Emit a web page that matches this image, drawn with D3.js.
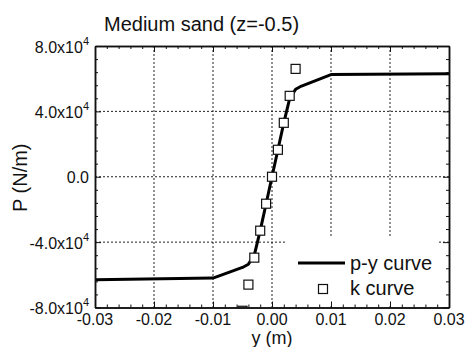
<!DOCTYPE html>
<html>
<head>
<meta charset="utf-8">
<script src="https://cdn.jsdelivr.net/npm/d3@7"></script>
<style>
  body { margin: 0; background: #fff; }
  svg text { font-family: "Liberation Sans", Arial, sans-serif; fill: #111; }
</style>
</head>
<body>
<div id="chart"></div>
<script>
// p-y curve points (y in m, P in N/m)
const pyY = [-0.03, -0.01, -0.005, -0.004, -0.003, -0.002, -0.001, 0, 0.001, 0.002, 0.003, 0.004, 0.005, 0.01, 0.03];
const pyP = [-63000, -62000, -55500, -53500, -48000, -33000, -16500, 0, 16500, 33000, 48000, 53500, 55500, 62500, 63000];

// k curve points
const kY = [-0.005, -0.004, -0.003, -0.002, -0.001, 0, 0.001, 0.002, 0.003, 0.004, 0.005];
const kP = [-82000, -66000, -49500, -33000, -16500, 0, 16500, 33000, 49500, 66000, 82500];

const xTicks = [-0.03, -0.02, -0.01, 0, 0.01, 0.02, 0.03];
const xTickLabels = ["-0.03", "-0.02", "-0.01", "0.00", "0.01", "0.02", "0.03"];
const yTicks = [80000, 40000, 0, -40000, -80000];
const yTickLabels = [["8.0x10", "4"], ["4.0x10", "4"], ["0.0", ""], ["-4.0x10", "4"], ["-8.0x10", "4"]];

const W = 466, H = 347;
const plot = { left: 95, right: 449, top: 46, bottom: 307.5 };

const svg = d3.select("#chart").append("svg")
  .attr("width", W).attr("height", H);

const x = d3.scaleLinear().domain([-0.03, 0.03]).range([plot.left, plot.right]);
const y = d3.scaleLinear().domain([-80000, 80000]).range([plot.bottom, plot.top]);

// grid
const grid = svg.append("g")
  .attr("stroke", "#222").attr("stroke-width", 1).attr("stroke-dasharray", "2,2");
grid.selectAll("line.v")
  .data(xTicks.slice(1, -1))
  .join("line")
    .attr("x1", d => x(d)).attr("x2", d => x(d))
    .attr("y1", plot.top).attr("y2", plot.bottom);
grid.selectAll("line.h")
  .data(yTicks.slice(1, -1))
  .join("line")
    .attr("x1", plot.left).attr("x2", plot.right)
    .attr("y1", d => y(d)).attr("y2", d => y(d));

// minor tick values
const xMinor = d3.range(-0.03, 0.0301, 0.002).filter(v => !xTicks.some(t => Math.abs(t - v) < 1e-9));
const yMinor = d3.range(-80000, 80001, 8000).filter(v => !yTicks.includes(v));

// clip for markers
svg.append("clipPath").attr("id", "clip")
  .append("rect")
    .attr("x", plot.left).attr("y", plot.top)
    .attr("width", plot.right - plot.left).attr("height", plot.bottom - plot.top);

// p-y curve
const line = d3.line().x(d => x(d[0])).y(d => y(d[1]));
svg.append("path")
  .datum(pyY.map((v, i) => [v, pyP[i]]))
  .attr("d", line)
  .attr("fill", "none")
  .attr("stroke", "#000")
  .attr("stroke-width", 3)
  .attr("stroke-linejoin", "round");

// k curve squares
const sq = 9;
svg.append("g").attr("clip-path", "url(#clip)")
  .selectAll("rect")
  .data(kY.map((v, i) => [v, kP[i]]))
  .join("rect")
    .attr("x", d => x(d[0]) - sq / 2)
    .attr("y", d => y(d[1]) - sq / 2)
    .attr("width", sq).attr("height", sq)
    .attr("fill", "#fff")
    .attr("stroke", "#111")
    .attr("stroke-width", 1.2);

// legend box (covers grid)
const lg = svg.append("g");
lg.append("rect")
  .attr("x", 285).attr("y", 238).attr("width", 154).attr("height", 68)
  .attr("fill", "#fff");
lg.append("line")
  .attr("x1", 298).attr("x2", 345).attr("y1", 263).attr("y2", 263)
  .attr("stroke", "#000").attr("stroke-width", 3);
lg.append("text").attr("x", 350).attr("y", 270).attr("font-size", 20).text("p-y curve");
lg.append("rect")
  .attr("x", 323 - sq / 2).attr("y", 289 - sq / 2).attr("width", sq).attr("height", sq)
  .attr("fill", "#fff").attr("stroke", "#111").attr("stroke-width", 1.2);
lg.append("text").attr("x", 350).attr("y", 295).attr("font-size", 20).text("k curve");

// axes: inward ticks on all four sides
function axisStyle(g) {
  g.select(".domain").attr("stroke", "#111").attr("stroke-width", 1.5);
  g.selectAll(".tick line").attr("stroke", "#111").attr("stroke-width", 1);
  g.selectAll(".tick text").remove();
}
svg.append("g").attr("transform", `translate(0,${plot.bottom})`)
  .call(d3.axisBottom(x).tickValues(xTicks).tickSize(-6).tickSizeOuter(0)).call(axisStyle);
svg.append("g").attr("transform", `translate(0,${plot.bottom})`)
  .call(d3.axisBottom(x).tickValues(xMinor).tickSize(-3).tickSizeOuter(0)).call(axisStyle);
svg.append("g").attr("transform", `translate(0,${plot.top})`)
  .call(d3.axisTop(x).tickValues(xTicks).tickSize(-6).tickSizeOuter(0)).call(axisStyle);
svg.append("g").attr("transform", `translate(0,${plot.top})`)
  .call(d3.axisTop(x).tickValues(xMinor).tickSize(-3).tickSizeOuter(0)).call(axisStyle);
svg.append("g").attr("transform", `translate(${plot.left},0)`)
  .call(d3.axisLeft(y).tickValues(yTicks).tickSize(-6).tickSizeOuter(0)).call(axisStyle);
svg.append("g").attr("transform", `translate(${plot.left},0)`)
  .call(d3.axisLeft(y).tickValues(yMinor).tickSize(-3).tickSizeOuter(0)).call(axisStyle);
svg.append("g").attr("transform", `translate(${plot.right},0)`)
  .call(d3.axisRight(y).tickValues(yTicks).tickSize(-6).tickSizeOuter(0)).call(axisStyle);
svg.append("g").attr("transform", `translate(${plot.right},0)`)
  .call(d3.axisRight(y).tickValues(yMinor).tickSize(-3).tickSizeOuter(0)).call(axisStyle);

// x tick labels
svg.append("g").selectAll("text")
  .data(xTicks)
  .join("text")
    .attr("x", d => x(d))
    .attr("y", 325)
    .attr("text-anchor", "middle")
    .attr("font-size", 16)
    .text((d, i) => xTickLabels[i]);

// y tick labels with superscript
const yl = svg.append("g").selectAll("text")
  .data(yTicks)
  .join("text")
    .attr("x", 89)
    .attr("y", d => y(d) + 6.5)
    .attr("text-anchor", "end")
    .attr("font-size", 16);
yl.append("tspan").text((d, i) => yTickLabels[i][0]);
yl.append("tspan")
  .attr("dy", -8).attr("font-size", 11)
  .text((d, i) => yTickLabels[i][1]);

// titles
svg.append("text")
  .attr("x", 104).attr("y", 31).attr("font-size", 20)
  .text("Medium sand (z=-0.5)");
svg.append("text")
  .attr("x", x(0)).attr("y", 344)
  .attr("text-anchor", "middle").attr("font-size", 18)
  .text("y (m)");
svg.append("text")
  .attr("transform", `translate(27,${y(0) + 1}) rotate(-90)`)
  .attr("text-anchor", "middle").attr("font-size", 20)
  .text("P (N/m)");
</script>
</body>
</html>
